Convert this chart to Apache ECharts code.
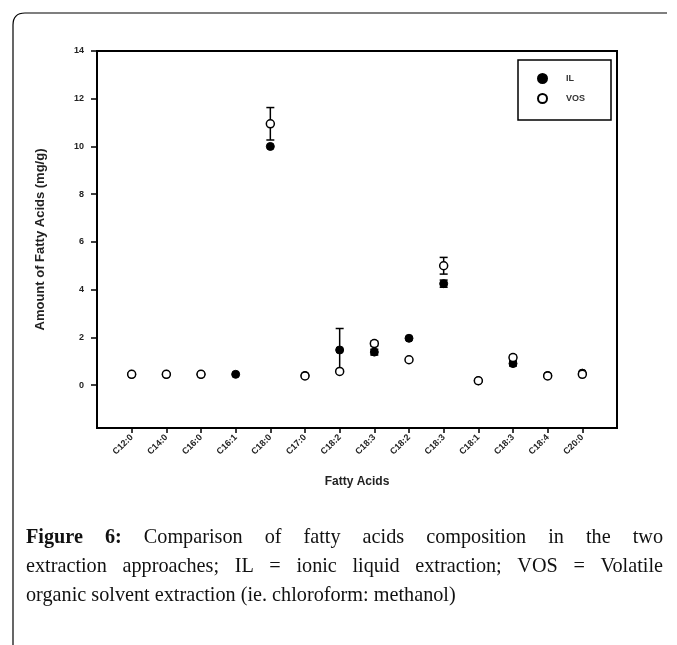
<!DOCTYPE html>
<html>
<head>
<meta charset="utf-8">
<script src="https://cdn.jsdelivr.net/npm/echarts@6/dist/echarts.min.js"></script>
<style>
html,body{margin:0;padding:0;background:#fff;}
#chart{width:677px;height:645px;}
</style>
</head>
<body>
<div id="chart"></div>
<script>
// ---- data ----
const categories = ["C12:0","C14:0","C16:0","C16:1","C18:0","C17:0","C18:2","C18:3","C18:2","C18:3","C18:1","C18:3","C18:4","C20:0"];
const ilValues  = [0.45, 0.45, 0.45, 0.45, 10.0, 0.40, 1.47, 1.38, 1.96, 4.25, 0.18, 0.90, 0.40, 0.50];
const ilErrors  = [0,    0,    0,    0,    0,    0,    0.90, 0.12, 0,    0.15, 0,    0.10, 0,    0];
const vosValues = [0.45, 0.45, 0.45, null, 10.95,0.38, 0.57, 1.74, 1.06, 5.00, 0.18, 1.15, 0.38, 0.45];
const vosErrors = [0,    0,    0,    0,    0.68, 0,    0,    0.10, 0,    0.35, 0,    0.10, 0,    0];
const yTicks = [0, 2, 4, 6, 8, 10, 12, 14];
const seriesNames = ["IL", "VOS"];
const yTitle = "Amount of Fatty Acids (mg/g)";
const xTitle = "Fatty Acids";
const captionLines = [
  "Figure 6: Comparison of fatty acids composition in the two",
  "extraction approaches; IL = ionic liquid extraction; VOS = Volatile",
  "organic solvent extraction (ie. chloroform: methanol)"
];
const captionBoldWords = 2; // "Figure 6:"

const xPositions = categories.map((c, i) => i + 1);

function pts(vals){ return vals.map((v, i) => v == null ? null : [xPositions[i], v]); }
function errPts(vals, errs){
  const out = [];
  vals.forEach((v, i) => { if (v != null && errs[i] > 0) out.push([xPositions[i], v, errs[i]]); });
  return out;
}

function errRender(params, api){
  const x = api.value(0), v = api.value(1), e = api.value(2);
  const t = api.coord([x, v + e]);
  const b = api.coord([x, v - e]);
  const hw = 4;
  const st = {stroke:'#000', lineWidth:1.5};
  return {type:'group', children:[
    {type:'line', shape:{x1:t[0], y1:t[1], x2:b[0], y2:b[1]}, style:st},
    {type:'line', shape:{x1:t[0]-hw, y1:t[1], x2:t[0]+hw, y2:t[1]}, style:st},
    {type:'line', shape:{x1:b[0]-hw, y1:b[1], x2:b[0]+hw, y2:b[1]}, style:st}
  ]};
}

// ---- caption layout (justified words) ----
const capFamily = '"Liberation Serif", "Times New Roman", serif';
const mc = document.createElement('canvas').getContext('2d');
function measure(t, bold, fs){ mc.font = (bold ? 'bold ' : '') + fs + 'px ' + capFamily; return mc.measureText(t).width; }
function buildCaption(){
  const left = 26, right = 663, lineYs = [538, 567, 596];
  // size so the last (ragged) line spans about 430px as in the original
  let fs = 18 * 430 / measure(captionLines[2], false, 18);
  fs = Math.max(16, Math.min(21, fs));
  const els = [];
  let wordIdx = 0;
  captionLines.forEach((line, li) => {
    const words = line.split(' ').map(t => { const b = wordIdx++ < captionBoldWords; return {t, b, w: measure(t, b, fs)}; });
    const total = words.reduce((s, wd) => s + wd.w, 0);
    const last = li === captionLines.length - 1;
    const gap = (!last && words.length > 1) ? (right - left - total) / (words.length - 1) : measure(' ', false, fs);
    let x = left;
    words.forEach(wd => {
      els.push({type:'text', x:x, y:lineYs[li], silent:true,
        style:{text: wd.t, fill:'#111', fontFamily:capFamily, fontSize:fs,
          fontWeight: wd.b ? 'bold' : 'normal', verticalAlign:'middle', align:'left'}});
      x += wd.w + gap;
    });
  });
  return els;
}

const chart = echarts.init(document.getElementById('chart'), null, {renderer:'canvas'});
const axisFont = {fontFamily:'Arial, "Liberation Sans", sans-serif', fontSize:9, fontWeight:'bold', color:'#222'};

chart.setOption({
  animation:false,
  backgroundColor:'#fff',
  grid:{left:97, top:51, right:60, bottom:217, show:true, borderColor:'#000', borderWidth:2, backgroundColor:'transparent'},
  legend:{
    orient:'vertical', left:518, top:60,
    data:[{name:seriesNames[0], icon:'circle'}, {name:seriesNames[1], icon:'circle'}],
    itemWidth:9, itemHeight:9, itemGap:9,
    padding:[13, 26, 16, 19],
    borderColor:'#000', borderWidth:1.5,
    textStyle:{fontFamily:'Arial, sans-serif', fontSize:9, fontWeight:'bold', color:'#333', padding:[0,0,0,14]}
  },
  xAxis:{
    type:'value', min:0, max:15,
    name:xTitle, nameLocation:'middle', nameGap:48,
    nameTextStyle:{fontFamily:'Arial, sans-serif', fontSize:12, fontWeight:'bold', color:'#222'},
    axisLine:{show:true, onZero:false, lineStyle:{color:'#000', width:2}},
    splitLine:{show:false},
    axisTick:{show:true, length:5, lineStyle:{color:'#000', width:1.5}, customValues:xPositions},
    axisLabel:Object.assign({rotate:45, margin:8, customValues:xPositions,
      formatter:v => categories[Math.round(v) - 1] || ''}, axisFont)
  },
  yAxis:{
    type:'value', min:-1.8, max:14,
    name:yTitle, nameLocation:'middle', nameGap:50, nameRotate:90,
    nameTextStyle:{fontFamily:'Arial, sans-serif', fontSize:13, fontWeight:'bold', color:'#222'},
    axisLine:{show:true, onZero:false, lineStyle:{color:'#000', width:2}},
    splitLine:{show:false},
    axisTick:{show:true, length:6, lineStyle:{color:'#000', width:1.5}, customValues:yTicks},
    axisLabel:Object.assign({margin:13, customValues:yTicks, formatter:v => String(v)}, axisFont)
  },
  series:[
    {type:'custom', name:'ilErr', renderItem:errRender, data:errPts(ilValues, ilErrors), z:1, silent:true},
    {type:'custom', name:'vosErr', renderItem:errRender, data:errPts(vosValues, vosErrors), z:1, silent:true},
    {type:'scatter', name:seriesNames[0], data:pts(ilValues), symbol:'circle', symbolSize:8, z:3,
      itemStyle:{color:'#000', borderColor:'#000', borderWidth:1, opacity:1}},
    {type:'scatter', name:seriesNames[1], data:pts(vosValues), symbol:'circle', symbolSize:8, z:4,
      itemStyle:{color:'#fff', borderColor:'#000', borderWidth:1.5, opacity:1}}
  ],
  graphic:[
    {type:'line', silent:true, shape:{x1:13, y1:645, x2:13, y2:25}, style:{stroke:'#000', lineWidth:1.2}},
    {type:'bezierCurve', silent:true, shape:{x1:13, y1:25, x2:25, y2:13, cpx1:13, cpy1:13}, style:{stroke:'#000', lineWidth:1.2, fill:null}},
    {type:'line', silent:true, shape:{x1:25, y1:13, x2:667, y2:13}, style:{stroke:'#000', lineWidth:1.2}}
  ].concat(buildCaption())
});
</script>
</body>
</html>
